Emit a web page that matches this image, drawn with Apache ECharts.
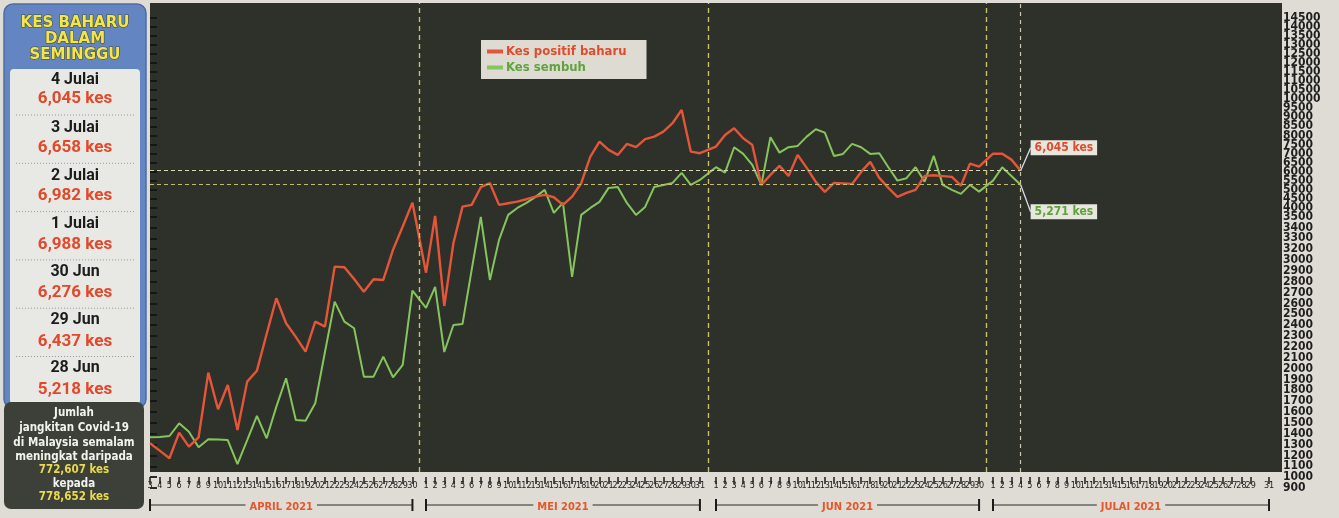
<!DOCTYPE html>
<html>
<head>
<meta charset="utf-8">
<script src="https://cdn.jsdelivr.net/npm/echarts@6/dist/echarts.min.js"></script>
<style>
html,body{margin:0;padding:0;background:#dedcd4;}
#c{width:1339px;height:518px;}
</style>
</head>
<body>
<div id="c"></div>
<script>
// ================= DATA =================
const monthNames = ['APRIL 2021', 'MEI 2021', 'JUN 2021', 'JULAI 2021'];
const monthFirstDay = [3, 1, 1, 1];
const monthLastDay = [30, 31, 30, 31];

// right-hand axis tick labels, top to bottom (as printed; no 3100)
const yTickLabels = [14500, 14000, 13500, 13000, 12500, 12000, 11500, 11000, 10500, 10000,
  9500, 9000, 8500, 8000, 7500, 7000, 6500, 6000, 5500, 5000, 4500, 4000,
  3500, 3400, 3300, 3200, 3000, 2900, 2800, 2700, 2600, 2500, 2400, 2300, 2200, 2100,
  2000, 1900, 1800, 1700, 1600, 1500, 1400, 1300, 1200, 1100, 1000, 900];

// Kes positif baharu (3 Apr - 4 Jul)
const newCasesApr = [1312, 1244, 1174, 1410, 1281, 1367, 1963, 1625, 1849, 1435, 1880, 1981, 2319, 2648,
  2418, 2292, 2156, 2433, 2387, 2940, 2934, 2826, 2709, 2824, 2817, 3188, 3409, 4278];
const newCasesMay = [2884, 3542, 2577, 3255, 4056, 4151, 5131, 5352, 4151, 4245, 4333, 4466, 4610, 4704,
  4577, 4151, 4610, 5352, 6825, 7655, 7196, 6919, 7528, 7345, 7788, 7932, 8209, 8674, 9411, 7102, 7013];
const newCasesJun = [7379, 8026, 8397, 7844, 7473, 5258, 5812, 6310, 5756, 6919, 6199, 5424, 4870, 5369,
  5341, 5313, 5978, 6532, 5646, 5092, 4594, 4815, 4981, 5756, 5790, 5745, 5701, 5218, 6437, 6276];
const newCasesJul = [6988, 6982, 6658, 6045];

// Kes sembuh (3 Apr - 4 Jul)
const recoveredApr = [1367, 1370, 1379, 1496, 1419, 1275, 1349, 1347, 1342, 1121, 1342, 1564, 1358, 1650,
  1911, 1527, 1520, 1681, 2153, 2617, 2433, 2372, 1926, 1926, 2110, 1920, 2034, 2718];
const recoveredMay = [2559, 2753, 2153, 2402, 2412, 2909, 3498, 2817, 3286, 3597, 3984, 4261, 4594, 4981,
  3708, 4261, 2845, 3597, 3984, 4317, 5092, 5147, 4261, 3597, 4040, 5147, 5258, 5369, 5922, 5258, 5535];
const recoveredJun = [6238, 5939, 7345, 6974, 6365, 5258, 7899, 7046, 7345, 7417, 7932, 8342, 8154, 6864,
  6974, 7528, 7345, 6974, 7013, 6238, 5496, 5629, 6238, 5441, 6864, 5258, 4981, 4760, 5258, 4887];
const recoveredJul = [5496, 6238, 5756, 5271];

// side panel
const weekDates = ['4 Julai', '3 Julai', '2 Julai', '1 Julai', '30 Jun', '29 Jun', '28 Jun'];
const weekCases = [6045, 6658, 6982, 6988, 6276, 6437, 5218];
const totalBefore = 772607;
const totalAfter = 778652;

// ================= SCALE / LAYOUT =================
const FONT = "'Liberation Sans Narrow','DejaVu Sans Condensed','Roboto Condensed','Arial Narrow',Roboto,sans-serif";
const PAPER = '#dedcd4';
const RED = '#e4553a';
const GREEN = '#86c45e';

// x: days per month, month groups drawn with a small gap
const monthStartU = [0, 30.0, 61.52, 91.63];
const monthStepU = [1.0565, 0.9924, 0.986, 1.0];
const X_MAX = 123.04;

const days = [];
monthNames.forEach((n, m) => {
  for (let d = monthFirstDay[m]; d <= monthLastDay[m]; d++) {
    days.push({ m: m, d: d, u: monthStartU[m] + (d - monthFirstDay[m]) * monthStepU[m] });
  }
});
const key = v => Math.round(v * 1000);
const xLabelMap = {};
days.forEach(o => { xLabelMap[key(o.u)] = String(o.d); });
const dayU = days.map(o => o.u);

// y: printed axis is piecewise (100-steps below 3500, 500-steps above)
const UPPER_STEP = 0.832;
const yAsc = yTickLabels.slice().reverse();
const i3500 = yAsc.indexOf(3500);
const yUnits = yAsc.map((v, i) => i <= i3500 ? i : i3500 + (i - i3500) * UPPER_STEP);
const Y_MAX = yUnits[yUnits.length - 1];
function yScale(v) {
  for (let i = 0; i < yAsc.length - 1; i++) {
    if (v <= yAsc[i + 1]) {
      return yUnits[i] + (v - yAsc[i]) / (yAsc[i + 1] - yAsc[i]) * (yUnits[i + 1] - yUnits[i]);
    }
  }
  return Y_MAX;
}
const yLabelMap = {};
yAsc.forEach((v, i) => { yLabelMap[key(yUnits[i])] = String(v); });

const H = 518;
const AX_TOP = 18, AX_BOTTOM = 30;                 // pixel span of 14500 .. 900 on the printed axis
const uPerPx = Y_MAX / (H - AX_TOP - AX_BOTTOM);
const PAD = 0.7;                                    // blank room at both axis ends
const gridB = { left: 150, right: 57, top: AX_TOP - PAD / uPerPx, bottom: AX_BOTTOM - PAD / uPerPx };
const gridA = { left: 150, right: 57, top: 3, bottom: 46 };    // dark plot panel
const yMinA = (gridA.bottom - AX_BOTTOM) * uPerPx;
const yMaxA = Y_MAX + (AX_TOP - gridA.top) * uPerPx;
const yLabelValues = [-PAD].concat(yUnits, [Y_MAX + PAD]);

const newCases = [].concat(newCasesApr, newCasesMay, newCasesJun, newCasesJul);
const recovered = [].concat(recoveredApr, recoveredMay, recoveredJun, recoveredJul);
const lastIdx = newCases.length - 1;
const lastU = dayU[lastIdx];
const fmt = v => v.toLocaleString('en-US');

function buildData(vals, labelColor) {
  return vals.map((v, i) => {
    const p = [dayU[i], yScale(v)];
    if (i !== lastIdx) return p;
    return {
      value: p,
      label: {
        show: true, position: 'right', distance: 4,
        formatter: fmt(v) + ' kes',
        color: labelColor, backgroundColor: '#e8e7df',
        fontFamily: FONT, fontWeight: 'bold', fontSize: 12,
        padding: [2, 4, 1, 4]
      }
    };
  });
}

// month boundaries (midpoint between last day of a month and first day of the next)
const boundaries = [];
for (let i = 1; i < days.length; i++) {
  if (days[i].m !== days[i - 1].m) boundaries.push((days[i].u + days[i - 1].u) / 2);
}
const vLineStyle = { color: '#c9bf6a', width: 1.4, type: [5, 4] };

const chart = echarts.init(document.getElementById('c'), null, { renderer: 'canvas' });

const option = {
  animation: false,
  backgroundColor: PAPER,
  textStyle: { fontFamily: FONT },
  grid: [
    Object.assign({ show: true, backgroundColor: '#2e3129', borderWidth: 0 }, gridA),
    Object.assign({ show: false }, gridB)
  ],
  legend: {
    data: [
      { name: 'Kes positif baharu', textStyle: { color: '#e14b2b' } },
      { name: 'Kes sembuh', textStyle: { color: '#62a23f' } }
    ],
    orient: 'vertical', left: 481, top: 40,
    icon: 'rect', itemWidth: 16, itemHeight: 4, itemGap: 3,
    backgroundColor: '#dedcd2', padding: [5, 20, 5, 6],
    textStyle: { fontSize: 13, fontWeight: 'bold', fontFamily: FONT, padding: [0, 0, 0, -2] },
    selectedMode: false
  },
  xAxis: [
    {
      type: 'value', gridIndex: 0, min: 0, max: X_MAX, position: 'bottom', offset: 5,
      axisLine: { show: false }, splitLine: { show: false },
      axisTick: { show: true, length: 7, lineStyle: { color: '#1c1c1c', width: 1.5 }, customValues: dayU },
      axisLabel: {
        customValues: dayU, formatter: v => xLabelMap[key(v)] || '',
        fontSize: 9, color: '#222', margin: 4, fontFamily: FONT,
        hideOverlap: false, showMinLabel: true, showMaxLabel: true
      }
    },
    { type: 'value', gridIndex: 1, min: 0, max: 1, show: false }
  ],
  yAxis: [
    { type: 'value', gridIndex: 0, min: yMinA, max: yMaxA, show: false },
    {
      type: 'value', gridIndex: 1, position: 'right', min: -PAD, max: Y_MAX + PAD,
      axisLine: { show: false }, splitLine: { show: false },
      axisTick: { show: true, length: 7, lineStyle: { color: '#151515', width: 1.8 }, customValues: yUnits },
      axisLabel: {
        customValues: yLabelValues, formatter: v => yLabelMap[key(v)] || '',
        fontSize: 12, fontWeight: 'bold', color: '#1e1e1e', margin: 1, fontFamily: FONT,
        hideOverlap: false
      }
    }
  ],
  series: [
    {
      name: 'Kes sembuh', type: 'line', xAxisIndex: 0, yAxisIndex: 0, z: 3,
      data: buildData(recovered, '#5fa23a'),
      symbol: 'circle', symbolSize: 0, showSymbol: true,
      itemStyle: { color: GREEN },
      lineStyle: { color: GREEN, width: 2 },
      labelLayout: { dx: 6, dy: 27 },
      labelLine: { show: true, lineStyle: { color: '#d6dbe8', width: 1.3 } },
      markLine: {
        silent: true, symbol: 'none', label: { show: false },
        data: [
          [{ coord: [0, yScale(recovered[lastIdx])], lineStyle: { color: '#c6bd6c', width: 1, type: [4, 3] } },
           { coord: [lastU, yScale(recovered[lastIdx])] }]
        ]
      }
    },
    {
      name: 'Kes positif baharu', type: 'line', xAxisIndex: 0, yAxisIndex: 0, z: 4,
      data: buildData(newCases, '#e14b2b'),
      symbol: 'circle', symbolSize: 0, showSymbol: true,
      itemStyle: { color: RED },
      lineStyle: { color: RED, width: 2.4 },
      labelLayout: { dx: 6, dy: -23 },
      labelLine: { show: true, lineStyle: { color: '#d6dbe8', width: 1.3 } },
      markLine: {
        silent: true, symbol: 'none', label: { show: false },
        data: [
          [{ coord: [0, yScale(newCases[lastIdx])], lineStyle: { color: '#d8d6b0', width: 1, type: [4, 3] } },
           { coord: [lastU, yScale(newCases[lastIdx])] }]
        ].concat(boundaries.map(b => ({ xAxis: b, lineStyle: vLineStyle })))
         .concat([{ xAxis: lastU, lineStyle: { color: '#c9c7a8', width: 1.2, type: [4, 4] } }])
      }
    }
  ]
};
chart.setOption(option);

// ---------- graphics: side panel + month brackets ----------
const g = [];
g.push({ type: 'rect', z: 10, shape: { x: 4, y: 4, width: 142, height: 404, r: 9 },
  style: { fill: '#6386c2', stroke: '#4d6ca6', lineWidth: 1.5 } });
['KES BAHARU', 'DALAM', 'SEMINGGU'].forEach((t, i) => {
  g.push({ type: 'text', z: 11, x: 75, y: 23 + i * 16,
    style: { text: t, fill: '#f1e64c', stroke: '#4a4a2a', lineWidth: 1.2, font: "bold 15px 'DejaVu Sans', Roboto, sans-serif", align: 'center', verticalAlign: 'middle' } });
});
g.push({ type: 'rect', z: 11, shape: { x: 10, y: 69, width: 130, height: 335, r: 4 }, style: { fill: '#e8e8e4' } });
weekDates.forEach((t, k) => {
  g.push({ type: 'text', z: 12, x: 75, y: 80 + k * 48,
    style: { text: t, fill: '#1c1c1c', font: 'bold 16px Roboto, sans-serif', align: 'center', verticalAlign: 'middle' } });
  g.push({ type: 'text', z: 12, x: 75, y: 99 + k * 48.5,
    style: { text: fmt(weekCases[k]) + ' kes', fill: '#e2482a', font: 'bold 17px Roboto, sans-serif', align: 'center', verticalAlign: 'middle' } });
  if (k < weekDates.length - 1) {
    g.push({ type: 'line', z: 12, shape: { x1: 16, y1: 115 + k * 48.3, x2: 134, y2: 115 + k * 48.3 },
      style: { stroke: '#9a9a96', lineWidth: 1, lineDash: [1, 2] } });
  }
});
g.push({ type: 'rect', z: 13, shape: { x: 4, y: 402, width: 140, height: 107, r: 7 }, style: { fill: '#3c4038' } });
const totalLines = [
  ['Jumlah', '#f2f2ee'], ['jangkitan Covid-19', '#f2f2ee'], ['di Malaysia semalam', '#f2f2ee'],
  ['meningkat daripada', '#f2f2ee'], [fmt(totalBefore) + ' kes', '#ead94c'], ['kepada', '#f2f2ee'],
  [fmt(totalAfter) + ' kes', '#ead94c']];
const totalY = [413, 428, 443, 457, 470, 484, 497];
totalLines.forEach((l, i) => {
  g.push({ type: 'text', z: 14, x: 74, y: totalY[i],
    style: { text: l[0], fill: l[1], font: 'bold 11.5px ' + FONT, align: 'center', verticalAlign: 'middle' } });
});

// month brackets under the day labels
const BY = 505;
monthNames.forEach((name, m) => {
  const md = days.filter(o => o.m === m);
  const x1 = chart.convertToPixel({ xAxisIndex: 0 }, md[0].u);
  const x2 = chart.convertToPixel({ xAxisIndex: 0 }, md[md.length - 1].u);
  g.push({ type: 'line', z: 10, shape: { x1: x1, y1: BY, x2: x2, y2: BY }, style: { stroke: '#2a2a2a', lineWidth: 1 } });
  g.push({ type: 'line', z: 10, shape: { x1: x1, y1: BY - 6, x2: x1, y2: BY + 6 }, style: { stroke: '#1a1a1a', lineWidth: 2 } });
  g.push({ type: 'line', z: 10, shape: { x1: x2, y1: BY - 6, x2: x2, y2: BY + 6 }, style: { stroke: '#1a1a1a', lineWidth: 2 } });
  g.push({ type: 'text', z: 11, x: (x1 + x2) / 2, y: BY + 2,
    style: { text: name, fill: '#e8552a', font: 'bold 11px ' + FONT, align: 'center', verticalAlign: 'middle',
      backgroundColor: PAPER, padding: [0, 4] } });
});
chart.setOption({ graphic: g });
</script>
</body>
</html>
